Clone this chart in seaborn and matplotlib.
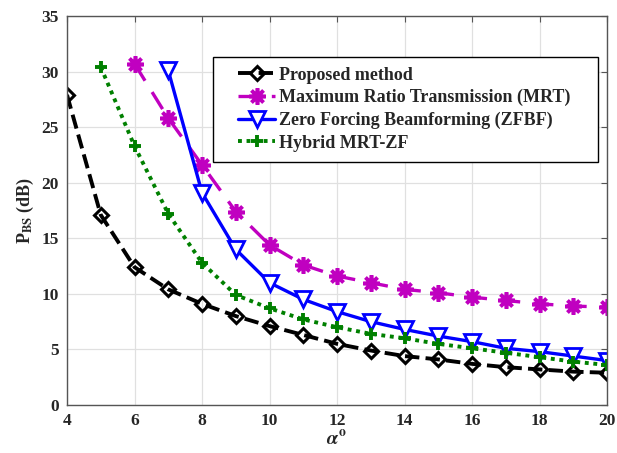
import matplotlib
matplotlib.use("Agg")
import matplotlib.pyplot as plt
import seaborn as sns
import pandas as pd
from matplotlib.legend_handler import HandlerLine2D
from matplotlib.lines import Line2D

alpha_prop = [4, 5, 6, 7, 8, 9, 10, 11, 12, 13, 14, 15, 16, 17, 18, 19, 20]
p_prop = [27.9, 17.1, 12.4, 10.4, 9.1, 8.0, 7.1, 6.3, 5.5, 4.9, 4.4, 4.1, 3.7, 3.4, 3.2, 3.0, 2.9]

alpha_mrt = [6, 7, 8, 9, 10, 11, 12, 13, 14, 15, 16, 17, 18, 19, 20]
p_mrt = [30.7, 25.8, 21.6, 17.4, 14.4, 12.6, 11.6, 11.0, 10.4, 10.1, 9.7, 9.4, 9.1, 8.9, 8.8]

alpha_zf = [7, 8, 9, 10, 11, 12, 13, 14, 15, 16, 17, 18, 19, 20]
p_zf = [30.1, 19.1, 14.0, 11.0, 9.5, 8.4, 7.5, 6.8, 6.2, 5.7, 5.1, 4.8, 4.4, 4.0]

alpha_hyb = [5, 6, 7, 8, 9, 10, 11, 12, 13, 14, 15, 16, 17, 18, 19, 20]
p_hyb = [30.4, 23.3, 17.2, 12.8, 9.9, 8.7, 7.7, 7.0, 6.4, 6.0, 5.5, 5.1, 4.7, 4.3, 3.9, 3.6]

labels = ["Proposed method", "Maximum Ratio Transmission (MRT)",
          "Zero Forcing Beamforming (ZFBF)", "Hybrid MRT-ZF"]

sns.set_theme(style="white")
plt.rcParams['font.family'] = ['Liberation Serif', 'DejaVu Serif']
plt.rcParams['font.weight'] = 'bold'
plt.rcParams['mathtext.fontset'] = 'stix'

fig = plt.figure(figsize=(6.17, 4.53), dpi=100)
ax = fig.add_axes([0.1086, 0.106, 0.8752, 0.8588])

styles = [
    dict(color="black", ls="--", marker="D", ms=7, mfc="none", mec="black", mew=2.2, lw=2.8),
    dict(color="#C000C0", ls=(0, (6, 4)), marker=(8, 2, 0), ms=12, mec="#C000C0", mew=2.6, lw=2.4),
    dict(color="#0000FF", ls="-", marker="v", ms=12, mfc="white", mec="#0000FF", mew=2.0, lw=2.4),
    dict(color="#008000", ls=(0, (1, 1.2)), marker="+", ms=9, mec="#008000", mew=2.8, lw=2.8),
]
series = [(alpha_prop, p_prop), (alpha_mrt, p_mrt), (alpha_zf, p_zf), (alpha_hyb, p_hyb)]

for (xs, ys), lab, st in zip(series, labels, styles):
    df = pd.DataFrame({"alpha": xs, "P": ys})
    sns.lineplot(data=df, x="alpha", y="P", ax=ax, label=lab,
                 color=st["color"], linestyle=st["ls"], linewidth=st["lw"],
                 marker=st["marker"], markersize=st["ms"],
                 markerfacecolor=st.get("mfc", st["color"]),
                 markeredgecolor=st["mec"], markeredgewidth=st["mew"])

ax.set_xlim(4, 20)
ax.set_ylim(0, 35)
ax.set_xticks(range(4, 21, 2))
ax.set_yticks(range(0, 36, 5))
ax.grid(True, color="#e0e0e0", linewidth=0.9)
for sp in ax.spines.values():
    sp.set_visible(True)
    sp.set_color("#555555")
    sp.set_linewidth(1.0)
ax.tick_params(direction="in", length=4, colors="#555555", labelcolor="#262626",
               labelsize=12.5, width=0.8, top=True, right=True, pad=6)
for t in ax.get_xticklabels() + ax.get_yticklabels():
    t.set_fontweight("bold")

ax.set_xlabel(r"$\alpha^{\mathrm{o}}$", fontsize=14, color="#262626", labelpad=0)
ax.set_ylabel(r"P$_{\mathbf{BS}}$ (dB)", fontsize=13, fontweight="bold", color="#262626", labelpad=4)

leg = ax.legend(loc="upper left", bbox_to_anchor=(0.2704, 0.895, 0.713, 0.0), mode="expand",
                frameon=True, fancybox=False, edgecolor="black", framealpha=1,
                prop={"family": "Liberation Serif", "weight": "bold", "size": 13},
                handlelength=2.9, handletextpad=0.2, borderpad=0.55, labelspacing=0.3,
                borderaxespad=0, handler_map={Line2D: HandlerLine2D(xpad=0.83)})
leg.get_frame().set_linewidth(1.0)

fig.savefig("out.png", dpi=100)
